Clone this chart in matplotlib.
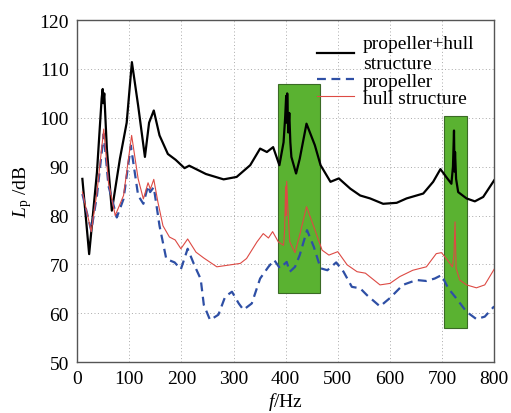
import matplotlib
matplotlib.use("Agg")
import matplotlib.pyplot as plt
from matplotlib.patches import Rectangle

plt.rcParams['font.family'] = ['Liberation Serif', 'DejaVu Serif']
plt.rcParams['mathtext.fontset'] = 'custom'
plt.rcParams['mathtext.rm'] = 'Liberation Serif'
plt.rcParams['mathtext.it'] = 'Liberation Serif:italic'

# propeller+hull structure (black)
f_total = [10, 23, 38, 47, 49, 50, 52, 57, 66.5, 82, 95, 105, 117, 130, 138, 147, 158, 174,
           189, 206, 215, 247, 281, 306, 332, 351, 364, 376, 388, 396, 399, 401, 402, 403,
           405, 407, 409, 411, 420, 427, 440, 456, 467, 486, 502, 524, 543, 562, 587, 613,
           632, 664, 683, 697, 708, 718, 721, 723, 724, 725, 727, 731, 747, 763, 779, 800]
L_total = [87.5, 72.1, 88.9, 104, 105.9, 103, 105, 93.6, 81, 91.6, 99, 111.4, 102.5, 92, 99,
           101.5, 96.4, 92.6, 91.4, 89.7, 90.2, 88.5, 87.4, 87.9, 90.3, 93.7, 93, 94, 90.3,
           95, 100, 104.5, 99, 105, 97, 101, 95, 92, 88.6, 91.6, 98.8, 94.4, 90.3, 86.9, 87.6,
           85.5, 84.1, 83.5, 82.4, 82.6, 83.5, 84.5, 86.9, 89.5, 87.9, 86.5, 90, 97.4, 89,
           93, 87.5, 84.8, 83.5, 82.9, 83.8, 87.2]

# propeller (blue dashed)
f_prop = [10, 27, 38, 51, 60, 76, 89, 103, 117, 127, 136, 140, 147, 158, 171, 187, 199, 212,
          225, 237, 243, 255, 271, 284, 297, 310, 319, 335, 351, 367, 378, 389, 402, 408,
          418, 427, 441, 454, 467, 480, 497, 511, 527, 543, 556, 581, 600, 625, 651, 670,
          686, 699, 712, 727, 747, 766, 782, 800]
L_prop = [84.4, 76.9, 84.1, 96.7, 86.1, 79.6, 83.4, 94.3, 84.1, 82.4, 86.1, 84.8, 85.8, 77.9,
          71.1, 70.4, 69, 73.2, 69.8, 67, 61.7, 58.6, 59.7, 63.4, 64.4, 62, 60.7, 62, 67.1,
          69.5, 70.9, 69.2, 70.5, 68.5, 69.5, 71.9, 77, 73.6, 69.2, 68.8, 70.4, 68.5, 65.4,
          65.1, 63.7, 61.4, 63.1, 65.8, 66.8, 66.6, 67.1, 67.8, 65.1, 63.1, 60.3, 58.8, 59.3,
          61.4]

# hull structure (red)
f_hull = [10, 27, 38, 51, 60, 73, 89, 104.5, 117, 127, 136, 140.5, 147, 155, 164.6, 177, 188,
          199, 212, 228, 243, 268, 313, 325, 345, 357, 367, 375, 386, 396, 398, 400, 401,
          402, 404, 406, 408, 418, 427, 440, 453, 470, 483, 500, 518, 537, 553, 581, 600,
          619, 644, 670, 689, 699, 708, 720, 723, 725, 727, 734, 747, 766, 782, 800]
L_hull = [84.8, 76.7, 84.8, 97.7, 86.8, 80, 84.1, 96.4, 87.5, 83.4, 86.7, 85.4, 87.4, 82.7,
          77.9, 75.6, 75, 73.2, 75.2, 72.5, 71.3, 69.5, 70.2, 71.2, 74.6, 76.3, 75.4, 76.7,
          74.6, 73.9, 77, 86, 80, 87, 82, 78, 74.6, 72.4, 76, 81.8, 78, 72.9, 71.9, 72.6,
          69.9, 68.5, 68.2, 65.8, 66.1, 67.5, 68.8, 69.5, 72.2, 72.4, 71.2, 69.5, 72, 78.7,
          69.2, 66.8, 65.8, 65.2, 65.8, 69]

# highlighted bands: (f_start, f_end, L_low, L_high)
bands = [(385, 465, 64.1, 106.9), (704, 748, 56.9, 100.3)]

fig = plt.figure(figsize=(5.11, 4.14), dpi=100)
ax = fig.add_axes([0.151, 0.123, 0.816, 0.826])

for x0, x1, y0, y1 in bands:
    ax.add_patch(Rectangle((x0, y0), x1 - x0, y1 - y0, facecolor='#5ab231',
                           edgecolor='#3a6a25', linewidth=0.8, zorder=2))

ax.plot(f_total, L_total, color='black', lw=1.6, zorder=3, label='propeller+hull\nstructure')
ax.plot(f_prop, L_prop, color='#2e4fa5', lw=1.6, ls=(0, (4, 2.5)), zorder=3, label='propeller')
ax.plot(f_hull, L_hull, color='#dd4a44', lw=0.8, zorder=3, label='hull structure')

ax.set_xlim(0, 800)
ax.set_ylim(50, 120)
ax.set_xticks(range(0, 801, 100))
ax.set_yticks(range(50, 121, 10))
ax.grid(True, ls=(0, (1, 2.5)), color='#aaaaaa', lw=0.7, zorder=0)
ax.set_axisbelow(True)
ax.tick_params(labelsize=14, length=0, pad=6)
for s in ax.spines.values():
    s.set_color('#555555')
    s.set_linewidth(1.0)

ax.set_xlabel(r'$f$/Hz', fontsize=14, labelpad=2)
ax.set_ylabel(r'$L_\mathrm{p}$ /dB', fontsize=14, labelpad=4)

leg = ax.legend(loc='upper right', bbox_to_anchor=(0.985, 0.995), frameon=False, fontsize=14,
                handlelength=1.9, handletextpad=0.45, labelspacing=0.0, borderpad=0.2)

fig.savefig('out.png', dpi=100)
